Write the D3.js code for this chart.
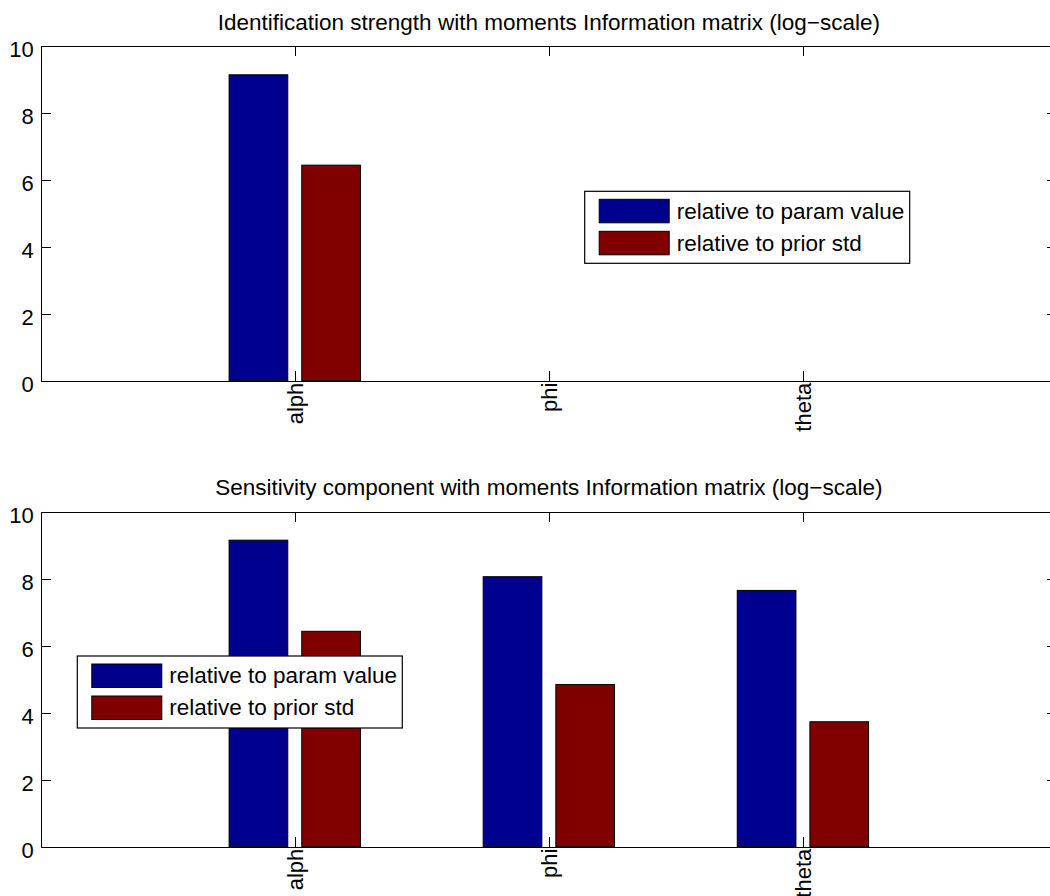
<!DOCTYPE html>
<html>
<head>
<meta charset="utf-8">
<script src="https://cdn.jsdelivr.net/npm/d3@7"></script>
<style>
  body { margin: 0; background: #fff; }
  text { font-family: "Liberation Sans", Arial, Helvetica, sans-serif; fill: #000; }
  .axis path, .axis line { stroke: #000; shape-rendering: crispEdges; }
</style>
</head>
<body>
<div id="chart"></div>
<script>
// parameter names and values
var params = ["alph", "phi", "theta"];
var seriesNames = ["relative to param value", "relative to prior std"];
var identParamVal = [9.14, 0, 0];
var identPriorStd = [6.44, 0, 0];
var sensParamVal = [9.15, 8.06, 7.65];
var sensPriorStd = [6.43, 4.84, 3.73];
var yTicks = [0, 2, 4, 6, 8, 10];
var titles = [
  "Identification strength with moments Information matrix (log\u2212scale)",
  "Sensitivity component with moments Information matrix (log\u2212scale)"
];
var colors = ["#00008f", "#800000"];

var svgWidth = 1050, svgHeight = 896;

var svg = d3.select("#chart")
  .append("svg")
  .attr("width", svgWidth)
  .attr("height", svgHeight);

svg.append("rect")
  .attr("width", svgWidth)
  .attr("height", svgHeight)
  .attr("fill", "#fff");

// x axis spans 0..4 in category units, runs a bit past the right edge
var xScale = d3.scaleLinear()
  .domain([0, params.length + 1])
  .range([40.7, 1057]);

var barW = xScale(0.231) - xScale(0);
var offsets = [-0.143, 0.143];

function drawPanel(top, bottom, title, series, legendPos) {
  var yScale = d3.scaleLinear()
    .domain([0, 10])
    .range([bottom, top]);

  var g = svg.append("g");

  // title
  g.append("text")
    .attr("x", (xScale.range()[0] + xScale.range()[1]) / 2)
    .attr("y", top - 16.5)
    .attr("text-anchor", "middle")
    .style("font-size", "22.5px")
    .text(title);

  // bars
  series.forEach(function(vals, s) {
    g.selectAll(".bar" + s)
      .data(vals)
      .enter()
      .append("rect")
      .attr("class", "bar" + s)
      .attr("x", (d, i) => xScale(i + 1 + offsets[s]) - barW / 2)
      .attr("y", d => yScale(d))
      .attr("width", barW)
      .attr("height", d => yScale(0) - yScale(d))
      .attr("fill", colors[s])
      .attr("stroke", "#000")
      .attr("stroke-width", 1);
  });

  // axes, all ticks pointing inwards
  var xTickVals = params.map((p, i) => i + 1);

  g.append("g")
    .attr("class", "axis")
    .attr("transform", `translate(${xScale.range()[0]},0)`)
    .call(d3.axisLeft(yScale).tickValues(yTicks).tickSize(-10).tickSizeOuter(0).tickPadding(7))
    .call(a => a.selectAll("text").style("font-size", "22px").attr("dy", "0.47em"));

  g.append("g")
    .attr("class", "axis")
    .attr("transform", `translate(${xScale.range()[1]},0)`)
    .call(d3.axisRight(yScale).tickValues(yTicks).tickSize(-10).tickSizeOuter(0).tickFormat(""));

  g.append("g")
    .attr("class", "axis")
    .attr("transform", `translate(0,${top})`)
    .call(d3.axisTop(xScale).tickValues(xTickVals).tickSize(-10).tickSizeOuter(0).tickFormat(""));

  g.append("g")
    .attr("class", "axis")
    .attr("transform", `translate(0,${bottom})`)
    .call(d3.axisBottom(xScale).tickValues(xTickVals).tickSize(-10).tickSizeOuter(0)
      .tickFormat(d => params[d - 1]))
    .call(a => a.selectAll("text")
      .style("font-size", "22px")
      .style("text-anchor", "end")
      .attr("transform", "rotate(-90)")
      .attr("x", -2)
      .attr("y", 0)
      .attr("dy", "0.36em"));

  g.selectAll(".axis").attr("font-family", null).attr("font-size", null);

  // legend
  var leg = g.append("g")
    .attr("transform", `translate(${legendPos.x},${legendPos.y})`);

  leg.append("rect")
    .attr("width", 325)
    .attr("height", 72)
    .attr("fill", "#fff")
    .attr("stroke", "#000")
    .attr("stroke-width", 1.2);

  seriesNames.forEach(function(name, s) {
    var rowY = 8 + s * 32;
    leg.append("rect")
      .attr("x", 14.5)
      .attr("y", rowY)
      .attr("width", 70)
      .attr("height", 23.5)
      .attr("fill", colors[s])
      .attr("stroke", "#000")
      .attr("stroke-width", 1);
    leg.append("text")
      .attr("x", 92)
      .attr("y", rowY + 11.75 + 7.5)
      .style("font-size", "22.5px")
      .text(name);
  });
}

drawPanel(46, 380.7, titles[0], [identParamVal, identPriorStd], {x: 584.7, y: 191.3});
drawPanel(511.7, 846.7, titles[1], [sensParamVal, sensPriorStd], {x: 77.3, y: 656});
</script>
</body>
</html>
